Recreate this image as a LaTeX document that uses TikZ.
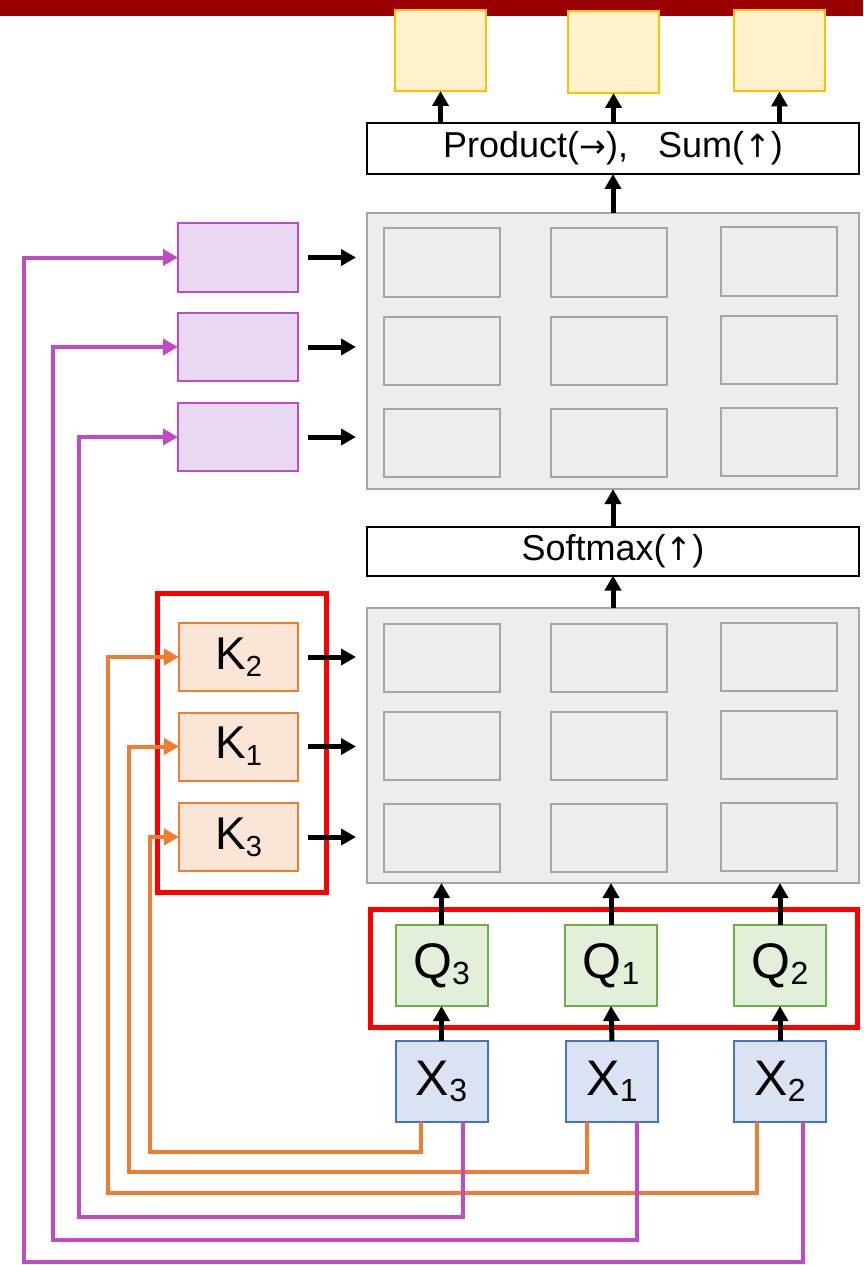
\documentclass[tikz,border=0pt]{standalone}
\usepackage{fontspec}
\setmainfont{Liberation Sans}
\newfontfamily\arrowfont{DejaVu Sans}
\usetikzlibrary{arrows.meta}
\definecolor{barred}{HTML}{990000}
\definecolor{yfill}{HTML}{FFF2CC}
\definecolor{yline}{HTML}{FFC000}
\definecolor{gfill}{HTML}{EDEDED}
\definecolor{gline}{HTML}{A5A5A5}
\definecolor{pfill}{HTML}{E9D8F2}
\definecolor{pline}{HTML}{C04BC4}
\definecolor{ofill}{HTML}{FBE5D6}
\definecolor{oline}{HTML}{ED7D31}
\definecolor{qfill}{HTML}{E2F0D9}
\definecolor{qline}{HTML}{70AD47}
\definecolor{xfill}{HTML}{DAE3F3}
\definecolor{xline}{HTML}{4472C4}
\newcommand{\mysubk}[1]{\raisebox{-7pt}{\fontsize{29}{30}\selectfont #1}}
\newcommand{\mysubx}[1]{\raisebox{-6pt}{\fontsize{32}{32}\selectfont #1}}
\newcommand{\myarr}[1]{{\arrowfont\fontsize{32}{36}\selectfont #1}}
\tikzset{
  box/.style={inner sep=0pt, outer sep=0pt, line width=2pt},
  ybox/.style={box, fill=yfill, draw=yline, minimum width=91pt, minimum height=81pt},
  gridbox/.style={box, fill=gfill, draw=gline, minimum width=492pt, minimum height=276pt},
  cellbox/.style={box, fill=gfill, draw=gline, minimum width=116pt, minimum height=68pt},
  txtbox/.style={box, fill=white, draw=black, minimum width=492pt, font=\fontsize{36}{40}\selectfont},
  pbox/.style={box, fill=pfill, draw=pline, minimum width=120pt, minimum height=68pt},
  kbox/.style={box, fill=ofill, draw=oline, minimum width=119pt, minimum height=68pt, font=\fontsize{46}{50}\selectfont},
  qbox/.style={box, fill=qfill, draw=qline, minimum width=92pt, minimum height=81pt, font=\fontsize{50}{54}\selectfont},
  xbox/.style={box, fill=xfill, draw=xline, minimum width=92pt, minimum height=81pt, font=\fontsize{50}{54}\selectfont},
  redbox/.style={draw=red, line width=5pt},
  arr/.style={draw=black, line width=5pt, -{Triangle[length=15pt,width=16pt]}},
  parr/.style={draw=pline, line width=4pt, -{Triangle[length=15pt,width=16pt]}},
  oarr/.style={draw=oline, line width=4pt, -{Triangle[length=15pt,width=16pt]}},
}
\begin{document}
\begin{tikzpicture}[x=1pt,y=-1pt]
\useasboundingbox (0,0) rectangle (863,1265);
\fill[barred] (0,0) rectangle (863,16);
% outputs
\node[ybox] (y1) at (440.5,50.5) {};
\node[ybox, minimum height=82pt] (y2) at (613.5,52) {};
\node[ybox] (y3) at (779.5,51) {};
\node[txtbox, minimum height=51pt] (prod) at (613,148.5) {Product(\myarr{→}),\ \ \ Sum(\myarr{↑})};
% top grid
\node[gridbox] (tg) at (613,351) {};
\foreach \r/\yy in {1/262.5,2/351,3/443}{
  \node[cellbox] (tc1\r) at (441.5,\yy) {};
  \node[cellbox] (tc2\r) at (609,\yy) {};
  \node[cellbox] (tc3\r) at (779,\yy-1) {};
}
\node[txtbox, minimum height=49pt] (soft) at (613,551) {Softmax(\myarr{↑})};
% bottom grid
\node[gridbox, minimum height=275pt] (bg) at (613,745.5) {};
\foreach \r/\yy in {1/657.5,2/746,3/838}{
  \node[cellbox] (bc1\r) at (441.5,\yy) {};
  \node[cellbox] (bc2\r) at (609,\yy) {};
  \node[cellbox] (bc3\r) at (779,\yy-1) {};
}
% purple boxes
\node[pbox] (p1) at (238,257.5) {};
\node[pbox] (p2) at (238,347) {};
\node[pbox] (p3) at (238,437) {};
% K boxes
\draw[redbox] (157,593) rectangle (326,892);
\node[kbox] (k2) at (238.5,657) {K\mysubk{2}};
\node[kbox] (k1) at (238.5,746.5) {K\mysubk{1}};
\node[kbox] (k3) at (238.5,837) {K\mysubk{3}};
% Q boxes
\draw[redbox] (370,909) rectangle (857,1027);
\node[qbox] (q3) at (441.5,965.5) {Q\mysubx{3}};
\node[qbox] (q1) at (611,965.5) {Q\mysubx{1}};
\node[qbox] (q2) at (780,965.5) {Q\mysubx{2}};
% X boxes
\node[xbox] (x3) at (441.5,1081.5) {X\mysubx{3}};
\node[xbox] (x1) at (612,1081.5) {X\mysubx{1}};
\node[xbox] (x2) at (780,1081.5) {X\mysubx{2}};
% black arrows
\foreach \n in {y1,y2,y3}{ \draw[arr] (prod.north -| \n) -- (\n.south); }
\draw[arr] (tg.north) -- (prod.south);
\draw[arr] (soft.north) -- (tg.south);
\draw[arr] (bg.north) -- (soft.south);
\foreach \n in {q1,q2,q3}{ \draw[arr] (\n.north) -- (\n.north |- bg.south); }
\draw[arr] (x3.north) -- (q3.south);
\draw[arr] (x1.north) -- (q1.south);
\draw[arr] (x2.north) -- (q2.south);
\foreach \n in {p1,p2,p3}{ \draw[arr] ([xshift=10pt]\n.east) -- ([xshift=-11pt]\n.east -| tg.west); }
\foreach \n in {k1,k2,k3}{ \draw[arr] ([xshift=10pt]\n.east) -- ([xshift=-11pt]\n.east -| bg.west); }
% orange connectors
\draw[oarr] ([xshift=-20.5pt]x3.south) |- (150,1152) |- (k3.west);
\draw[oarr] ([xshift=-25pt]x1.south) |- (129,1172) |- (k1.west);
\draw[oarr] ([xshift=-23pt]x2.south) |- (108,1193) |- (k2.west);
% purple connectors
\draw[parr] ([xshift=21.5pt]x3.south) |- (79,1217) |- (p3.west);
\draw[parr] ([xshift=25pt]x1.south) |- (53,1240) |- (p2.west);
\draw[parr] ([xshift=23pt]x2.south) |- (24,1262) |- (p1.west);
\end{tikzpicture}
\end{document}
